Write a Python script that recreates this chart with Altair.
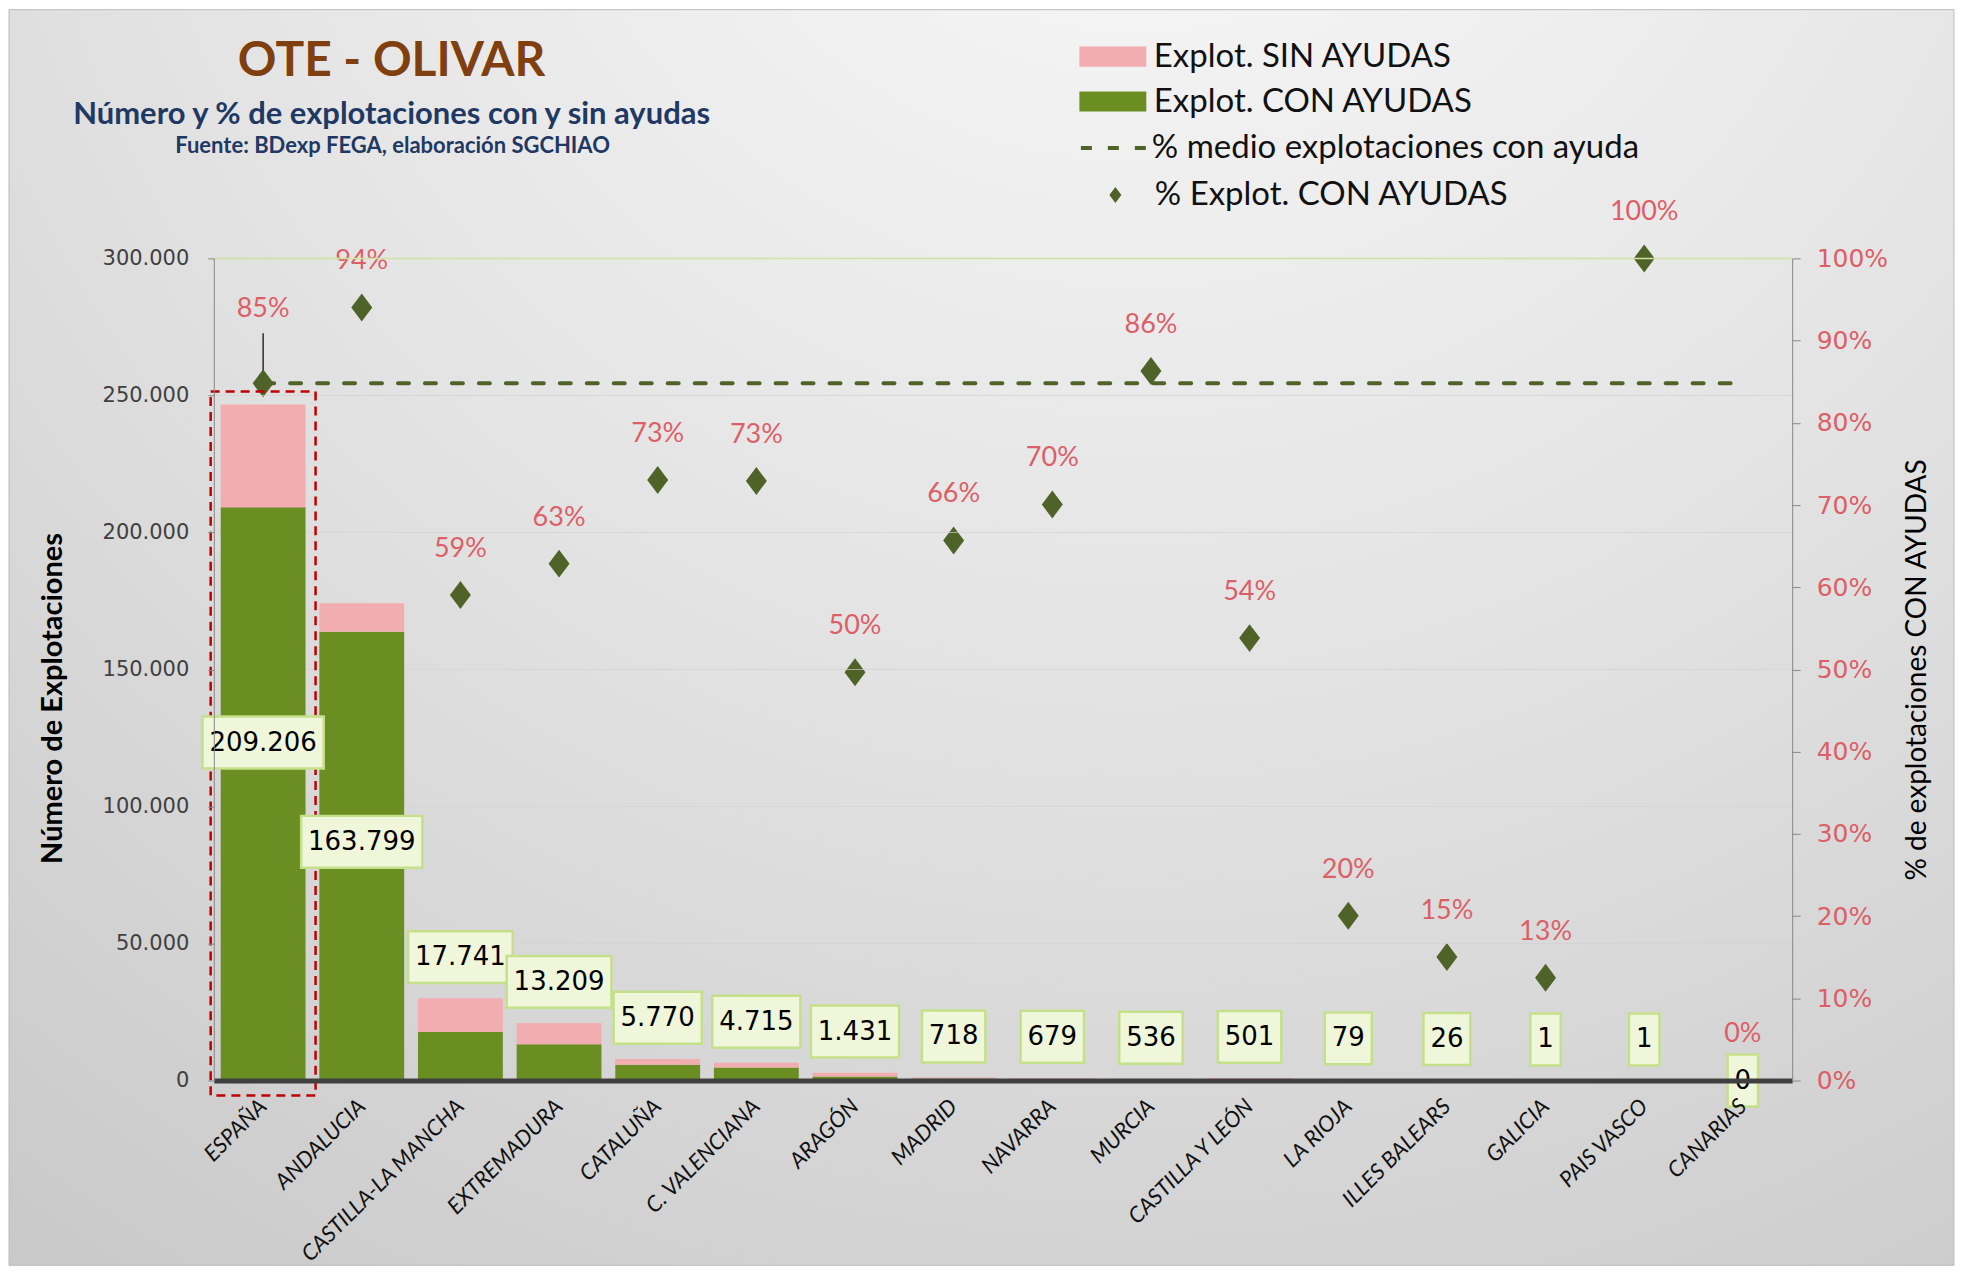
import altair as alt
import pandas as pd

# ---------------- data ----------------
regions = ["ESPAÑA", "ANDALUCIA", "CASTILLA-LA MANCHA", "EXTREMADURA", "CATALUÑA",
           "C. VALENCIANA", "ARAGÓN", "MADRID", "NAVARRA", "MURCIA", "CASTILLA Y LEÓN",
           "LA RIOJA", "ILLES BALEARS", "GALICIA", "PAIS VASCO", "CANARIAS"]
con_ayudas = [209206, 163799, 17741, 13209, 5770, 4715, 1431, 718, 679, 536, 501, 79, 26, 1, 1, 0]
sin_ayudas = [37480, 10400, 12300, 7800, 2130, 1750, 1450, 375, 290, 85, 430, 315, 147, 7, 0, 2]
y_ticks = [0, 50000, 100000, 150000, 200000, 250000, 300000]
pct_ticks = [0.0, 0.1, 0.2, 0.3, 0.4, 0.5, 0.6, 0.7, 0.8, 0.9, 1.0]

SIN = "Explot. SIN AYUDAS"
CON = "Explot. CON AYUDAS"
MEDIO = "% medio explotaciones con ayuda"
PCT = "% Explot. CON AYUDAS"

# ---------------- styles ----------------
PINK = "#F2ADB0"
GREEN = "#6B8E23"
OLIVE = "#4F6228"
RED = "#DC5F67"
NAVY = "#1F3864"
BROWN = "#7F3F0F"
W, H = 1580, 823
DIAMOND = "M0,-1L0.75,0L0,1L-0.75,0Z"
SWATCH = "M-2,-0.6L2,-0.6L2,0.6L-2,0.6Z"
LEG_FONT = 33

df = pd.DataFrame({"region": regions, "con": con_ayudas, "sin": sin_ayudas})
df["total"] = df["con"] + df["sin"]
df["pct"] = df["con"] / df["total"]
df["medio"] = float(df.loc[0, "pct"])
df["serie_medio"] = MEDIO
df["serie_pct"] = PCT
df["label"] = df["con"].map(lambda v: f"{v:,}".replace(",", "."))
df["boxw"] = df["label"].map(lambda s: sum(8.3 if c == "." else 16.5 for c in s) + 14)
df["label_y"] = [t / 2 if c > 100000 else (t + 15000 if c > 0 else 0)
                 for c, t in zip(df["con"], df["total"])]
df["pct_label"] = df["pct"].map(lambda p: f"{int(p * 100 + 0.5 + 1e-9)}%")
df["pct_pos"] = df["pct"] + [0.09 if r == regions[0] else 0.056 for r in regions]
df["lead_top"] = df["pct_pos"] - 0.029

bars_df = pd.concat([
    pd.DataFrame({"region": regions, "tipo": CON, "value": con_ayudas, "orden": 0}),
    pd.DataFrame({"region": regions, "tipo": SIN, "value": sin_ayudas, "orden": 1}),
])
grid_df = pd.DataFrame({"v": y_ticks[1:-1]})

# ---------------- shared encodings ----------------
xenc = alt.X("region:N", sort=regions,
             scale=alt.Scale(paddingInner=0.14, paddingOuter=0.07),
             axis=alt.Axis(title=None, labelAngle=-45, labelAlign="right", labelBaseline="middle",
                           labelFont="Lato", labelFontStyle="italic", labelFontSize=22,
                           labelColor="#111111", labelPadding=22, ticks=False, grid=False,
                           domainColor="#404040", domainWidth=5, labelLimit=400, zindex=1))

yscale = alt.Scale(domain=[0, 300000], nice=False, zero=True)
yaxis_left = alt.Axis(values=y_ticks, format=",.0f", orient="left",
                      labelFont="DejaVu Sans", labelFontSize=21, labelColor="#404040",
                      labelPadding=19, tickSize=6, tickColor="#888888", domainColor="#888888",
                      grid=False, zindex=1,
                      title="Número de Explotaciones", titleFont="Lato", titleFontWeight="bold",
                      titleFontSize=29, titleColor="#000000", titlePadding=35, titleY=440)

def yl(field):
    return alt.Y(field, scale=yscale, axis=yaxis_left)

pscale = alt.Scale(domain=[0, 1], nice=False, zero=True)
yaxis_right = alt.Axis(values=pct_ticks, format=".0%", orient="right",
                       labelFont="DejaVu Sans", labelFontSize=25, labelColor=RED,
                       labelPadding=16, tickSize=8, tickColor="#888888", domainColor="#888888",
                       grid=False, zindex=1,
                       title="% de explotaciones CON AYUDAS", titleFont="Lato",
                       titleFontWeight="normal", titleFontSize=28, titleColor="#000000",
                       titleAngle=270, titleBaseline="top", titlePadding=16)

def yr(field):
    return alt.Y(field, scale=pscale, axis=yaxis_right)

# ---------------- right (percentage) group ----------------
bg = alt.Chart(alt.Data(values=[{}])).mark_rect(
    fill={"gradient": "radial", "x1": 0.58, "y1": 0.0, "r1": 0.0,
          "x2": 0.58, "y2": 0.0, "r2": 1.05,
          "stops": [{"offset": 0.0, "color": "#FBFBFB"},
                    {"offset": 0.5, "color": "#E3E3E3"},
                    {"offset": 1.0, "color": "#C6C6C6"}]},
    stroke="#BDBDBD", strokeWidth=1, clip=False
).encode(x=alt.value(-205), x2=alt.value(W + 162), y=alt.value(-249), y2=alt.value(H + 185))

line = alt.Chart(df).mark_line(color=OLIVE, strokeWidth=4, strokeCap="round").encode(
    x=xenc, y=yr("medio:Q"),
    strokeDash=alt.StrokeDash("serie_medio:N",
                              scale=alt.Scale(domain=[MEDIO], range=[[11, 16]]),
                              legend=alt.Legend(orient="none", legendX=866, legendY=-146, title=None,
                                                symbolType="stroke", symbolSize=4489,
                                                symbolStrokeWidth=4, symbolStrokeColor=OLIVE,
                                                labelFont="Lato", labelFontSize=LEG_FONT,
                                                labelColor="#111111",
                                                labelLimit=700, labelOffset=2, padding=0)))

leader = alt.Chart(df).transform_filter(alt.datum.region == regions[0]).mark_rule(
    color="#000000", strokeWidth=1.2).encode(x=xenc, y=yr("pct:Q"), y2="lead_top:Q")

pts = alt.Chart(df).mark_point(filled=True, color=OLIVE, opacity=1, size=784).encode(
    x=xenc, y=yr("pct:Q"),
    shape=alt.Shape("serie_pct:N", scale=alt.Scale(domain=[PCT], range=[DIAMOND]),
                    legend=alt.Legend(orient="none", legendX=886, legendY=-80, title=None,
                                      symbolSize=256, symbolFillColor=OLIVE, symbolStrokeWidth=0,
                                      labelFont="Lato", labelFontSize=LEG_FONT, labelColor="#111111",
                                      labelLimit=700, labelOffset=23, padding=0)))

pct_text = alt.Chart(df).mark_text(font="Lato", fontSize=27, color=RED, baseline="middle").encode(
    x=xenc, y=yr("pct_pos:Q"), text="pct_label:N")

right = alt.layer(bg, line, leader, pts, pct_text)

# ---------------- left (count) group ----------------
grid = alt.Chart(grid_df).mark_rule(color="#D2D2D2", strokeWidth=1, opacity=0.7).encode(
    y=yl("v:Q"))

top_line = alt.Chart(alt.Data(values=[{}])).mark_rule(color="#CFE3A0", strokeWidth=1.5).encode(
    y=alt.YDatum(300000, scale=yscale, axis=yaxis_left))

bars = alt.Chart(bars_df).mark_bar().encode(
    x=xenc, y=alt.Y("value:Q", stack="zero", scale=yscale, axis=yaxis_left),
    color=alt.Color("tipo:N", scale=alt.Scale(domain=[SIN, CON], range=[PINK, GREEN]),
                    legend=alt.Legend(orient="none", legendX=883, legendY=-219, title=None,
                                      symbolType=SWATCH, symbolSize=1122,
                                      symbolStrokeWidth=0, symbolOpacity=1,
                                      labelFont="Lato", labelFontSize=LEG_FONT, labelColor="#111111",
                                      labelLimit=700, labelOffset=24, rowPadding=11, padding=0)),
    order=alt.Order("orden:Q"))

hl = alt.Chart(df).transform_filter(alt.datum.region == regions[0]).mark_bar(
    fillOpacity=0, stroke="#C00000", strokeDash=[9, 6], strokeWidth=2.5,
    width=105, yOffset=-13, y2Offset=15, clip=False
).encode(x=xenc, y=yl("total:Q"), y2=alt.datum(0))

boxes = alt.Chart(df).mark_bar(fill="#EFF6DA", stroke="#C5E08B", strokeWidth=2.5,
                               yOffset=-26, y2Offset=26).encode(
    x=xenc, y=yl("label_y:Q"), y2="label_y:Q",
    size=alt.Size("boxw:Q", scale=None, legend=None))

val_text = alt.Chart(df).mark_text(font="DejaVu Sans", fontSize=26, color="#000000",
                                   baseline="middle").encode(
    x=xenc, y=yl("label_y:Q"), text="label:N")

t1 = alt.Chart(alt.Data(values=[{}])).mark_text(
    text="OTE - OLIVAR", font="Lato", fontWeight="bold", fontSize=48, color=BROWN,
    align="center", baseline="middle").encode(x=alt.value(178), y=alt.value(-197))
t2 = alt.Chart(alt.Data(values=[{}])).mark_text(
    text="Número y % de explotaciones con y sin ayudas", font="Lato", fontWeight="bold",
    fontSize=31, color=NAVY, align="center", baseline="middle").encode(
    x=alt.value(178), y=alt.value(-144))
t3 = alt.Chart(alt.Data(values=[{}])).mark_text(
    text="Fuente: BDexp FEGA, elaboración SGCHIAO", font="Lato", fontWeight="bold",
    fontSize=22, color=NAVY, align="center", baseline="middle").encode(
    x=alt.value(179), y=alt.value(-112))

left = alt.layer(grid, top_line, bars, hl, boxes, val_text, t1, t2, t3)

chart = alt.layer(right, left).resolve_scale(y="independent").properties(
    width=W, height=H, padding=0, background="white"
).configure_view(stroke=None).configure(
    locale={"number": {"decimal": ",", "thousands": ".", "grouping": [3], "currency": ["", " €"]}}
)

chart.save("out.html", embed_options={"renderer": "svg", "actions": False})
